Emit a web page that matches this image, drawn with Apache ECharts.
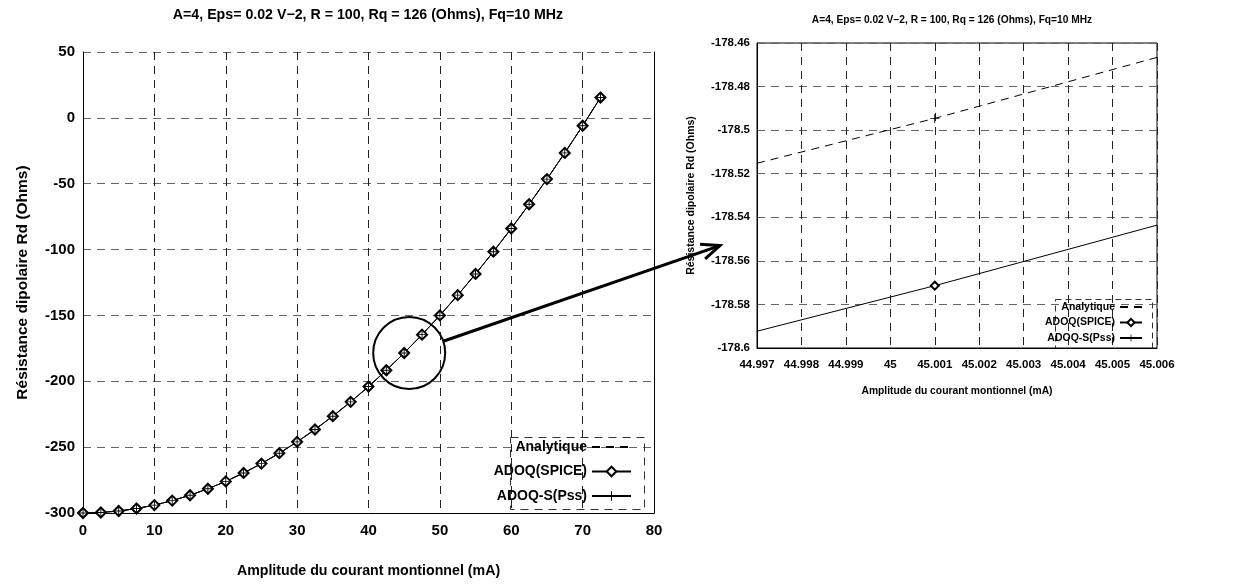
<!DOCTYPE html>
<html>
<head>
<meta charset="utf-8">
<script src="https://cdn.jsdelivr.net/npm/echarts@6/dist/echarts.min.js"></script>
<style>
html, body { margin: 0; padding: 0; background: #fff; }
#chart { width: 1253px; height: 585px; }
</style>
</head>
<body>
<div id="chart"></div>
<script>
// courant des points simules (mA)
var courant = [0, 2.5, 5, 7.5, 10, 12.5, 15, 17.5, 20, 22.5, 25, 27.5, 30, 32.5, 35,
  37.5, 40, 42.5, 45, 47.5, 50, 52.5, 55, 57.5, 60, 62.5, 65, 67.5, 70, 72.5];
// Rd (Ohms)
var rdAnalytique = [-300, -299.6, -298.5, -296.6, -294, -290.6, -286.5, -281.6, -276, -269.6,
  -262.5, -254.6, -246, -236.6, -226.5, -215.6, -204, -191.6, -178.5, -164.6,
  -150, -134.6, -118.5, -101.6, -84, -65.6, -46.5, -26.6, -6, 15.4];
var rdSpice = [-300, -299.6, -298.5, -296.6, -294, -290.6, -286.5, -281.6, -276, -269.6,
  -262.5, -254.6, -246, -236.6, -226.5, -215.6, -204, -191.6, -178.5, -164.6,
  -150, -134.6, -118.5, -101.6, -84, -65.6, -46.5, -26.6, -6, 15.4];
var rdPss = [-300, -299.6, -298.5, -296.6, -294, -290.6, -286.5, -281.6, -276, -269.6,
  -262.5, -254.6, -246, -236.6, -226.5, -215.6, -204, -191.6, -178.5, -164.6,
  -150, -134.6, -118.5, -101.6, -84, -65.6, -46.5, -26.6, -6, 15.4];

// zoom autour de 45 mA
var courantZoom = [44.997, 45.001, 45.006];
var rdAnalytiqueZoom = [-178.5152, -178.4946, -178.4666];
var rdSpiceZoom = [-178.5923, -178.5714, -178.5436];
var courantPssZoom = [45.001];
var rdPssZoom = [-178.4946];

var noms = ['Analytique', 'ADOQ(SPICE)', 'ADOQ-S(Pss)'];
var titre = 'A=4, Eps= 0.02 V\u22122, R = 100, Rq = 126 (Ohms), Fq=10 MHz';

var FONT = "'Liberation Sans', Arial, sans-serif";
var PLUS = 'path://M9,0L11,0L11,9L20,9L20,11L11,11L11,20L9,20L9,11L0,11L0,9L9,9Z';

function paires(xs, ys) {
  return xs.map(function (x, i) { return [x, ys[i]]; });
}

var myChart = echarts.init(document.getElementById('chart'));

var txt = function (size) {
  return { fontFamily: FONT, fontWeight: 'bold', fontSize: size, color: '#000' };
};
var grille = function (c) {
  return { show: true, lineStyle: { color: c, type: [8, 6], width: 1 } };
};
// la ligne analytique n'a pas de symbole dans la legende
var legendeData = [{ name: 'Analytique', itemStyle: { opacity: 0 } }, 'ADOQ(SPICE)', 'ADOQ-S(Pss)'];

var option = {
  animation: false,
  backgroundColor: '#fff',
  title: [
    { text: titre, left: 368, top: 8, textAlign: 'center', padding: 0, textStyle: txt(14.2) },
    { text: titre, left: 952, top: 15, textAlign: 'center', padding: 0, textStyle: txt(10.2) }
  ],
  grid: [
    { left: 83, top: 52, width: 571, height: 461 },
    { left: 757, top: 43, width: 400, height: 305, show: true, borderColor: '#000', borderWidth: 1 }
  ],
  legend: [
    {
      data: legendeData, orient: 'vertical', align: 'right', right: 621, top: 440,
      itemWidth: 39, itemHeight: 12, itemGap: 10.5, padding: 0, selectedMode: false,
      textStyle: txt(14)
    },
    {
      data: legendeData, orient: 'vertical', align: 'right', right: 110, top: 301.5,
      itemWidth: 22, itemHeight: 9, itemGap: 4.5, padding: 0, selectedMode: false,
      textStyle: txt(10.5)
    }
  ],
  xAxis: [
    {
      type: 'value', gridIndex: 0, min: 0, max: 80, interval: 10,
      name: 'Amplitude du courant montionnel (mA)', nameLocation: 'middle', nameGap: 51,
      nameTextStyle: txt(14.2),
      axisLine: { onZero: false, lineStyle: { color: '#000', width: 1 } },
      axisTick: { show: false },
      axisLabel: Object.assign({ margin: 10 }, txt(15)),
      splitLine: grille('#222')
    },
    {
      type: 'value', gridIndex: 1, min: 44.997, max: 45.006, interval: 0.001,
      name: 'Amplitude du courant montionnel (mA)', nameLocation: 'middle', nameGap: 38,
      nameTextStyle: txt(10.3),
      axisLine: { onZero: false, lineStyle: { color: '#000', width: 1 } },
      axisTick: { show: false },
      axisLabel: Object.assign({ margin: 11, formatter: function (v) { return String(+v.toFixed(3)); } }, txt(11.5)),
      splitLine: grille('#222')
    }
  ],
  yAxis: [
    {
      type: 'value', gridIndex: 0, min: -300, max: 50, interval: 50,
      name: 'R\u00e9sistance dipolaire Rd (Ohms)', nameLocation: 'middle', nameGap: 52,
      nameTextStyle: txt(15.5),
      axisLine: { onZero: false, lineStyle: { color: '#000', width: 1 } },
      axisTick: { show: false },
      axisLabel: Object.assign({ margin: 8 }, txt(15)),
      splitLine: grille('#666')
    },
    {
      // bord droit plein du graphe de gauche
      type: 'value', gridIndex: 0, position: 'right', min: -300, max: 50,
      axisLine: { show: true, onZero: false, lineStyle: { color: '#000', width: 1 } },
      axisTick: { show: false }, axisLabel: { show: false }, splitLine: { show: false }
    },
    {
      type: 'value', gridIndex: 1, min: -178.6, max: -178.46, interval: 0.02,
      name: 'R\u00e9sistance dipolaire Rd (Ohms)', nameLocation: 'middle', nameGap: 60,
      nameTextStyle: txt(10.5),
      axisLine: { onZero: false, lineStyle: { color: '#000', width: 1 } },
      axisTick: { show: false },
      axisLabel: Object.assign({ margin: 7, formatter: function (v) { return String(+v.toFixed(2)); } }, txt(11.5)),
      splitLine: grille('#666')
    }
  ],
  series: [
    {
      name: 'Analytique', type: 'line', xAxisIndex: 0, yAxisIndex: 0,
      data: paires(courant, rdAnalytique), symbol: 'none',
      lineStyle: { color: '#000', width: 1, type: [8, 6] }, itemStyle: { color: '#000' }
    },
    {
      name: 'ADOQ(SPICE)', type: 'line', xAxisIndex: 0, yAxisIndex: 0,
      data: paires(courant, rdSpice), symbol: 'emptyDiamond', symbolSize: 10, showAllSymbol: true,
      lineStyle: { color: '#000', width: 1 },
      itemStyle: { color: '#000', borderColor: '#000', borderWidth: 1 }
    },
    {
      name: 'ADOQ-S(Pss)', type: 'line', xAxisIndex: 0, yAxisIndex: 0,
      data: paires(courant, rdPss), symbol: PLUS, symbolSize: 9, showAllSymbol: true,
      lineStyle: { color: '#000', width: 1 },
      itemStyle: { color: '#000' }
    },
    {
      name: 'Analytique', type: 'line', xAxisIndex: 1, yAxisIndex: 2,
      data: paires(courantZoom, rdAnalytiqueZoom), symbol: 'none',
      lineStyle: { color: '#000', width: 1, type: [8, 6] }
    },
    {
      name: 'ADOQ(SPICE)', type: 'line', xAxisIndex: 1, yAxisIndex: 2,
      data: paires(courantZoom, rdSpiceZoom).map(function (p, i) {
        return i === 1 ? { value: p } : { value: p, symbol: 'none' };
      }),
      symbol: 'emptyDiamond', symbolSize: 8, showAllSymbol: true,
      lineStyle: { color: '#000', width: 1 },
      itemStyle: { color: '#000', borderColor: '#000', borderWidth: 1 }
    },
    {
      name: 'ADOQ-S(Pss)', type: 'line', xAxisIndex: 1, yAxisIndex: 2,
      data: paires(courantPssZoom, rdPssZoom), symbol: PLUS, symbolSize: 9,
      lineStyle: { color: '#000', width: 1 }, itemStyle: { color: '#000' }
    }
  ]
};
myChart.setOption(option);

// cadre des legendes, cercle et fleche de zoom
var c = myChart.convertToPixel({ gridIndex: 0 }, [45.7, -178.5]);
var fin = myChart.convertToPixel({ gridIndex: 1 }, [44.997, -178.553]);
fin[0] -= 37;
var r = 36;
var dx = fin[0] - c[0], dy = fin[1] - c[1];
var d = Math.sqrt(dx * dx + dy * dy);
var ux = dx / d, uy = dy / d;
var barbe = function (sgn) {
  var a = Math.PI + sgn * 0.4;
  return [fin[0] + 20 * (ux * Math.cos(a) - uy * Math.sin(a)), fin[1] + 20 * (ux * Math.sin(a) + uy * Math.cos(a))];
};

myChart.setOption({
  graphic: [
    { type: 'rect', left: 508, top: 435, shape: { width: 134, height: 72 }, silent: true,
      style: { fill: 'none', stroke: '#333', lineWidth: 1, lineDash: [8, 6] } },
    { type: 'rect', left: 1053, top: 297, shape: { width: 97, height: 49 }, silent: true,
      style: { fill: 'none', stroke: '#333', lineWidth: 1, lineDash: [6, 4] } },
    { type: 'circle', shape: { cx: c[0], cy: c[1], r: r }, silent: true,
      style: { fill: 'none', stroke: '#000', lineWidth: 2 } },
    { type: 'line', silent: true,
      shape: { x1: c[0] + r * ux, y1: c[1] + r * uy, x2: fin[0], y2: fin[1] },
      style: { stroke: '#000', lineWidth: 3 } },
    { type: 'polyline', silent: true,
      shape: { points: [barbe(1), fin, barbe(-1)] },
      style: { fill: 'none', stroke: '#000', lineWidth: 3 } }
  ]
});
</script>
</body>
</html>
